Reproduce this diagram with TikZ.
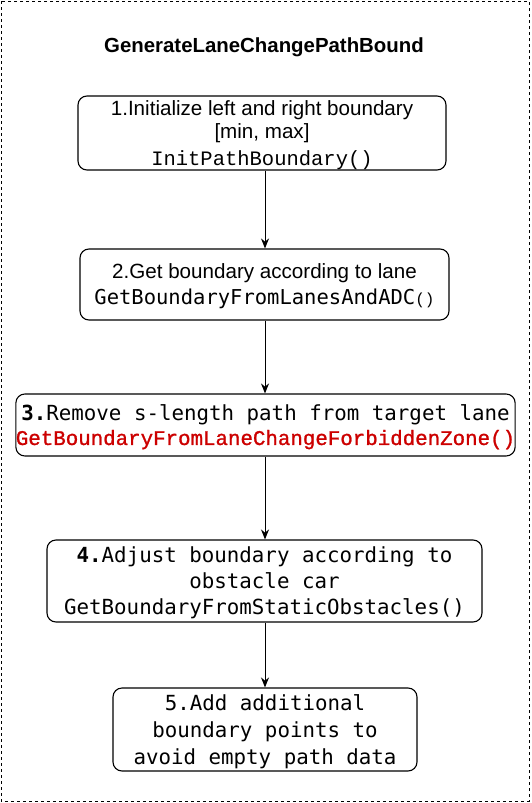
\documentclass[tikz,border=0pt]{standalone}
\usepackage{fontspec}
\setmainfont{Liberation Sans}
\setmonofont{Liberation Mono}
\newfontfamily\djmono{DejaVu Sans Mono}
\newfontfamily\redmono[FakeBold=1.2]{Liberation Mono}
\usetikzlibrary{arrows.meta, positioning}
\definecolor{fnred}{RGB}{204,0,0}

\begin{document}
\begin{tikzpicture}
  [x=1pt, y=-1pt,
  stepbox/.style={rectangle, draw=black, line width=1.1pt, rounded corners=9pt,
    inner sep=0pt, align=center, font=\fontsize{20.6}{26}\selectfont,
    text depth=0pt},
  flow/.style={-{Stealth[length=10pt,width=8pt]}, line width=1pt}]

  \useasboundingbox (0,0) rectangle (531,803);
  \draw[dash pattern=on 3pt off 3pt, line width=0.9pt] (1,1) rectangle (529,801);

  \node[font=\fontsize{20.4}{24}\selectfont\bfseries] (title) at (264,47) {GenerateLaneChangePathBound};

  \node[stepbox, minimum width=368pt, minimum height=74pt] (b1) at (262,133)
    {1.Initialize left and right boundary\\[-3pt]
     [min, max]\\[1pt]
     {\ttfamily\fontsize{20.5}{26}\selectfont InitPathBoundary()}};
  \node[stepbox, minimum width=369pt, minimum height=71pt] (b2) at (264.5,284.5)
    {2.Get boundary according to lane\\
     {\djmono\fontsize{20.5}{26}\selectfont GetBoundaryFromLanesAndADC}{\ttfamily\fontsize{16}{26}\selectfont()}};
  \node[stepbox, minimum width=497pt, minimum height=62pt, font=\djmono\fontsize{20.8}{25}\selectfont] (b3) at (265.5,425)
    {\textbf{3.}Remove s-length path from target lane\\[-1pt]
     {\redmono\color{fnred}GetBoundaryFromLaneChangeForbiddenZone()}};
  \node[stepbox, minimum width=435pt, minimum height=82pt, font=\djmono\fontsize{20.8}{26}\selectfont] (b4) at (264.5,581)
    {\textbf{4.}Adjust boundary according to\\
     obstacle car\\
     GetBoundaryFromStaticObstacles()};
  \node[stepbox, minimum width=304pt, minimum height=83pt, font=\djmono\fontsize{20.8}{27}\selectfont] (b5) at (265,729.5)
    {5.Add additional\\
     boundary points to\\
     avoid empty path data};

  \draw[flow] (b1.south -| 265,0) -- (b2.north -| 265,0);
  \draw[flow] (b2.south -| 265,0) -- (b3.north -| 265,0);
  \draw[flow] (b3.south -| 265,0) -- (b4.north -| 265,0);
  \draw[flow] (b4.south -| 265,0) -- (b5.north -| 265,0);
\end{tikzpicture}
\end{document}
